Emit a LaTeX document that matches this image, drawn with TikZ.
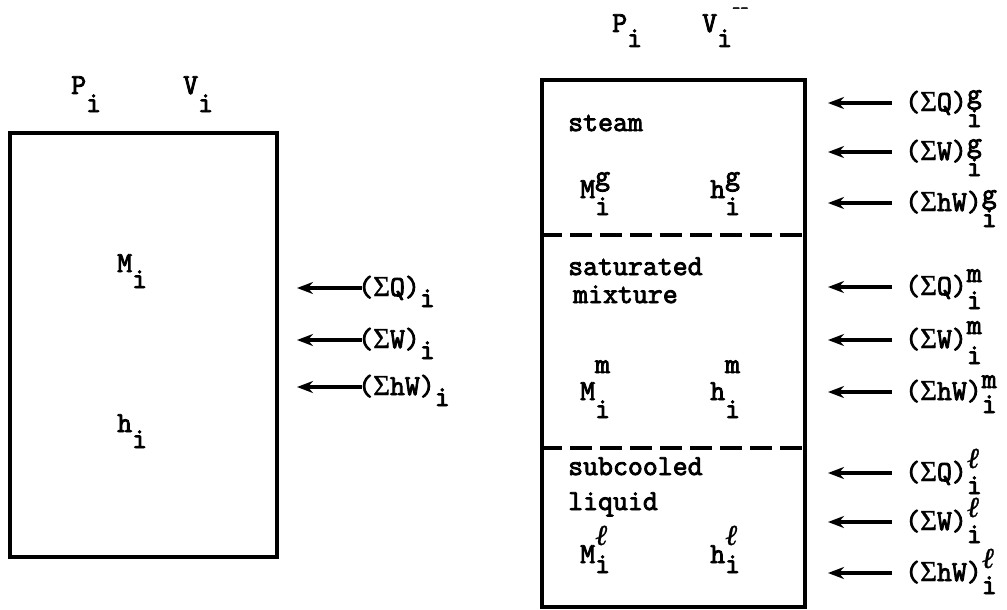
\documentclass[tikz,border=0pt]{standalone}
\usepackage{fontspec}
\setmonofont{Latin Modern Mono}[FakeBold=3]
\newfontfamily\sgfont{Liberation Serif}[FakeBold=1]
\usetikzlibrary{arrows.meta}
\newcommand{\SpS}[5]{#1\rlap{\raisebox{#4}{#2}}\raisebox{-#5}{#3}}
\newcommand{\Sb}[3]{#1\raisebox{-#3}{#2}}
\newcommand{\Sg}{{\sgfont Σ}}
\newcommand{\el}{{\sgfont\itshape ℓ}}
\begin{document}
\begin{tikzpicture}[x=1pt,y=-1pt,
  txt/.style={anchor=base west, inner sep=0pt, font=\fontsize{29}{34}\selectfont\ttfamily},
  box/.style={draw, line width=4.5pt, inner sep=0pt},
  sep/.style={line width=4pt, dash pattern=on 22pt off 8pt},
  arr/.style={line width=3.2pt, -{Stealth[length=16pt,width=12pt]}}]
\useasboundingbox (0,0) rectangle (1007,610);

% ---------- left control volume ----------
\node[box, minimum width=267pt, minimum height=424pt] (lbox) at (143.5,345) {};
\node[txt] (lP) at (71,94) {\Sb{P}{i}{18pt}};
\node[txt] (lV) at (183,94) {\Sb{V}{i}{18pt}};
\node[txt] (lM) at (117,272) {\Sb{M}{i}{16pt}};
\node[txt] (lh) at (117,432) {\Sb{h}{i}{16pt}};

\node[txt] (lq) at (358,296) {\Sb{(\Sg Q)}{i}{11pt}};
\node[txt] (lw) at (358,348) {\Sb{(\Sg W)}{i}{11pt}};
\node[txt] (lhw) at (358,395) {\Sb{(\Sg hW)}{i}{11pt}};
\coordinate (lq0) at (362,288);  \coordinate (lq1) at (297,288);
\coordinate (lw0) at (362,340);  \coordinate (lw1) at (297,340);
\coordinate (lhw0) at (362,387); \coordinate (lhw1) at (297,387);
\draw[arr] (lq0) -- (lq1);
\draw[arr] (lw0) -- (lw1);
\draw[arr] (lhw0) -- (lhw1);

% ---------- right control volume ----------
\node[box, minimum width=263pt, minimum height=527pt] (rbox) at (673.5,343.5) {};
\coordinate (s1) at (0,235);
\coordinate (s2) at (0,448);
\draw[sep] (rbox.west |- s1) -- (rbox.east |- s1);
\draw[sep] (rbox.west |- s2) -- (rbox.east |- s2);

\node[txt] (rP) at (612,32) {\Sb{P}{i}{15pt}};
\node[txt] (rV) at (702,32) {\Sb{V}{i}{15pt}\raisebox{19pt}{\fontsize{16}{16}\selectfont--}};

\node[txt] (steam) at (568,131) {steam};
\node[txt] (Mg) at (580,198) {\SpS{M}{g}{i}{13pt}{17pt}};
\node[txt] (hg) at (710,198) {\SpS{h}{g}{i}{13pt}{17pt}};

\node[txt] (sat) at (568,275) {saturated};
\node[txt] (mix) at (573,303) {mixture};
\node[txt] (Mm) at (580,400) {\SpS{M}{m}{i}{27pt}{18pt}};
\node[txt] (hm) at (710,400) {\SpS{h}{m}{i}{27pt}{18pt}};

\node[txt] (sub) at (568,475) {subcooled};
\node[txt] (liq) at (568,510) {liquid};
\node[txt] (Ml) at (580,563) {\SpS{M}{\el}{i}{18pt}{10pt}};
\node[txt] (hl) at (710,563) {\SpS{h}{\el}{i}{18pt}{10pt}};

% right labels and arrows
\foreach \nm/\y/\t/\s/\ra/\lo in {gq/103/(\Sg Q)/g/8pt/16pt, gw/152/(\Sg W)/g/8pt/16pt, ghw/203/(\Sg hW)/g/8pt/16pt,
  mq/287/(\Sg Q)/m/13pt/14pt, mw/340/(\Sg W)/m/14pt/16pt, mhw/392/(\Sg hW)/m/12pt/13pt,
  lq/473/(\Sg Q)/\el/13pt/13pt, lw/522/(\Sg W)/\el/13pt/13pt, lhw/573/(\Sg hW)/\el/13pt/13pt}{
  \node[txt] (r\nm) at (905,\y+8) {\SpS{\t}{\s}{i}{\ra}{\lo}};
  \coordinate (r\nm0) at (892,\y);
  \coordinate (r\nm1) at (828,\y);
  \draw[arr] (r\nm0) -- (r\nm1);
}
\end{tikzpicture}
\end{document}
